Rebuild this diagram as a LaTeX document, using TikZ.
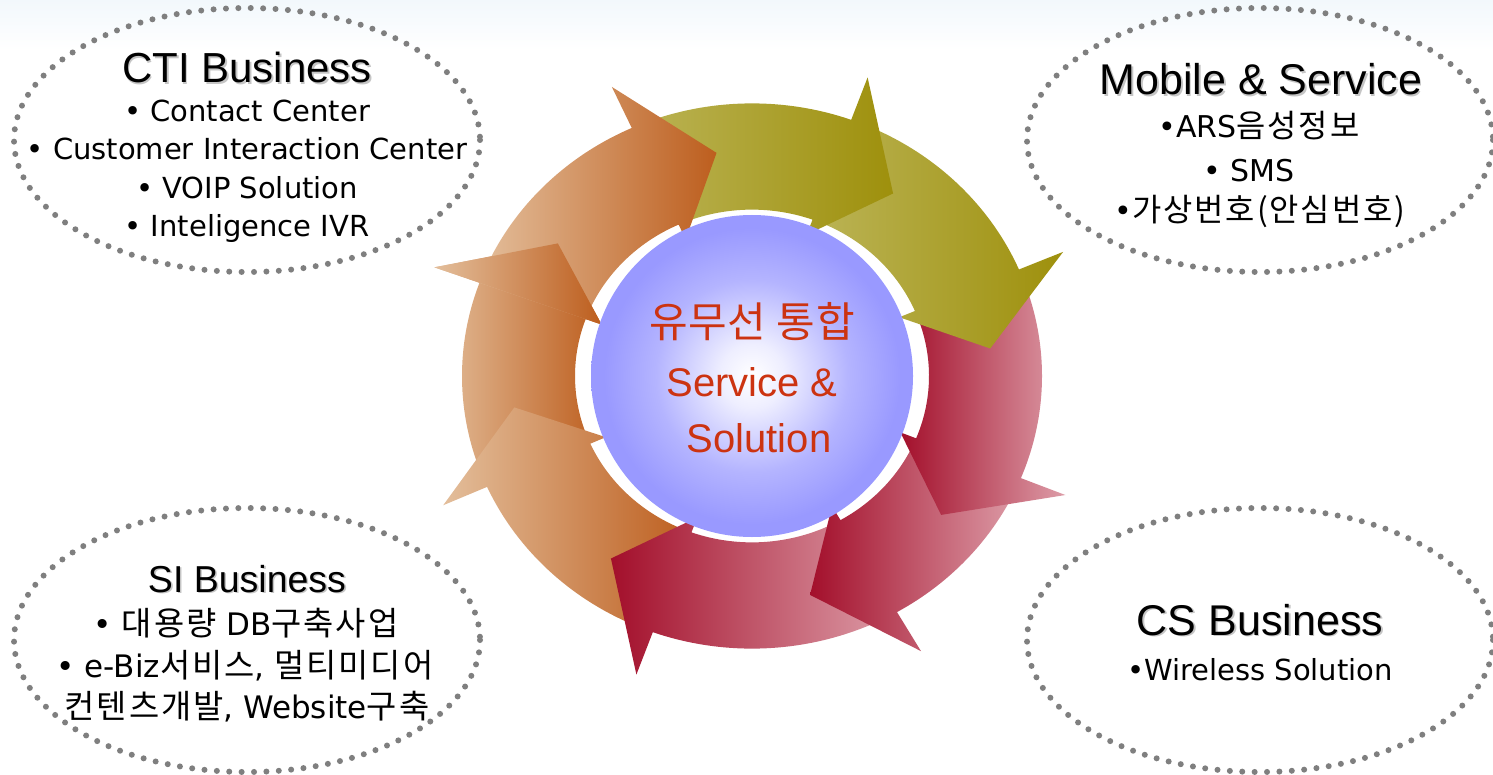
\documentclass[tikz,border=0pt]{standalone}
\usepackage{fontspec}
\setmainfont{DejaVu Sans}
\newfontfamily\kr[Scale=1.06, LetterSpace=6]{Noto Sans CJK KR}
\newfontfamily\krc[Scale=1.05, LetterSpace=2]{Noto Sans CJK KR}
\newfontfamily\ttl{Liberation Sans}
\definecolor{orL}{HTML}{E3BE9B}
\definecolor{orD}{HTML}{BD5E1E}
\definecolor{olL}{HTML}{BBB456}
\definecolor{olD}{HTML}{9E900C}
\definecolor{rdD}{HTML}{A30F2B}
\definecolor{rdL}{HTML}{DD9DA8}
\definecolor{dotgray}{HTML}{7F7F7F}
\definecolor{ctext}{HTML}{CC3311}
\definecolor{bgtop}{HTML}{F2F8FC}
\definecolor{ballA}{HTML}{EEEEFF}
\definecolor{ballB}{HTML}{B4B4FF}
\definecolor{ballC}{HTML}{9999FF}
\pgfdeclareradialshading{ball}{\pgfpointorigin}{color(0bp)=(white); color(5bp)=(ballA); color(15bp)=(ballB); color(23bp)=(ballC); color(50bp)=(ballC)}
\newcommand{\cyarrow}[2]{(#1:290) arc[start angle=#1, end angle=#2, radius=290] -- (#2:338) -- ({#2-16}:240) -- (#2:160) -- (#2:177) arc[start angle=#2, end angle=#1, radius=177] -- cycle}
\tikzset{
  dotring/.style={draw=dotgray, line width=3pt, line cap=round, dash pattern=on 0pt off 6.2pt},
  ttlbig/.style={anchor=base, inner sep=0pt, font=\ttl\fontsize{21}{21}\selectfont},
  ttlshadow/.style={anchor=base, inner sep=0pt, text=black!50, opacity=0.45, xshift=0.8pt, yshift=-0.8pt},
  item/.style={anchor=base, inner sep=0pt, font=\fontsize{14.5}{14.5}\selectfont},
  siitem/.style={anchor=base, inner sep=0pt, font=\fontsize{15.5}{15.5}\selectfont},
  ctr/.style={anchor=base, inner sep=0pt, text=ctext, font=\ttl\fontsize{20}{20}\selectfont}
}
\begin{document}
\begin{tikzpicture}[x=0.5pt,y=-0.5pt]
\useasboundingbox (0,0) rectangle (1493,775);
\fill[white] (0,0) rectangle (1493,775);
\shade[top color=bgtop, bottom color=white] (0,0) rectangle (1493,50);

% dotted ellipses
\draw[dotring] (247,140) ellipse[x radius=233, y radius=132];
\draw[dotring] (1260,140) ellipse[x radius=233, y radius=132];
\draw[dotring] (247,640) ellipse[x radius=233, y radius=132];
\draw[dotring] (1260,640) ellipse[x radius=233, y radius=132];

% cycle arrows
\begin{scope}[shift={(752,376)}]
\begin{scope}[yscale=-0.94]
\shade[left color=orL, right color=orD] \cyarrow{-156}{-200};
\shade[left color=orL, right color=orD] \cyarrow{-110}{-156};
\shade[left color=rdD, right color=rdL] \cyarrow{-60}{-110};
\shade[left color=rdD, right color=rdL] \cyarrow{-22}{-60};
\shade[left color=rdD, right color=rdL] \cyarrow{23}{-22};
\shade[left color=olL, right color=olD] \cyarrow{70}{23};
\shade[left color=olL, right color=olD] \cyarrow{114.5}{70};
\shade[left color=orL, right color=orD] \cyarrow{160}{114.5};
\begin{scope}
\clip (-200:338) -- (-216:240) -- (-200:160) -- cycle;
\shade[left color=orL, right color=orD] \cyarrow{-156}{-200};
\end{scope}
\end{scope}
\end{scope}

% centre disc
\shade[shading=ball] (752,376) circle[radius=161];
\node[ctr, font=\krc\fontsize{20}{20}\selectfont] (c1) at (752,337) {유무선 통합};
\node[ctr] (c2) at (752,396) {Service \&};
\node[ctr] (c3) at (759,452) {Solution};

% CTI
\node[ttlbig, ttlshadow] (ctiS) at (247,83) {CTI Business};
\node[ttlbig] (ctiT) at (247,83) {CTI Business};
\node[item] (cti1) at (247,122) {• Contact Center};
\node[item] (cti2) at (247,160) {• Customer Interaction Center};
\node[item] (cti3) at (247,199) {• VOIP Solution};
\node[item] (cti4) at (247,237) {• Inteligence IVR};

% Mobile
\node[ttlbig, ttlshadow, font=\ttl\fontsize{21.5}{21.5}\selectfont] (mobS) at (1261,95) {Mobile \& Service};
\node[ttlbig, font=\ttl\fontsize{21.5}{21.5}\selectfont] (mobT) at (1261,95) {Mobile \& Service};
\node[item, font=\fontsize{15}{15}\selectfont] (mob1) at (1259,138) {•ARS{\kr 음성정보}};
\node[item, font=\fontsize{15}{15}\selectfont] (mob2) at (1249,182) {• SMS};
\node[item, font=\fontsize{15}{15}\selectfont] (mob3) at (1260,222) {•{\kr 가상번호(안심번호)}};

% SI
\node[ttlbig, ttlshadow, font=\ttl\fontsize{18.75}{18.75}\selectfont] (siS) at (247,592) {SI Business};
\node[ttlbig, font=\ttl\fontsize{18.75}{18.75}\selectfont] (siT) at (247,592) {SI Business};
\node[siitem] (si1) at (246,635) {• {\kr 대용량} DB{\kr 구축사업}};
\node[siitem] (si2) at (245,677) {• e-Biz{\kr 서비스}, {\kr 멀티미디어}};
\node[siitem] (si3) at (247,718) {{\kr 컨텐츠개발}, Website{\kr 구축}};

% CS
\node[ttlbig, ttlshadow, font=\ttl\fontsize{21.5}{21.5}\selectfont] (csS) at (1260,635) {CS Business};
\node[ttlbig, font=\ttl\fontsize{21.5}{21.5}\selectfont] (csT) at (1260,635) {CS Business};
\node[item] (cs1) at (1260,680) {•Wireless Solution};
\end{tikzpicture}
\end{document}
